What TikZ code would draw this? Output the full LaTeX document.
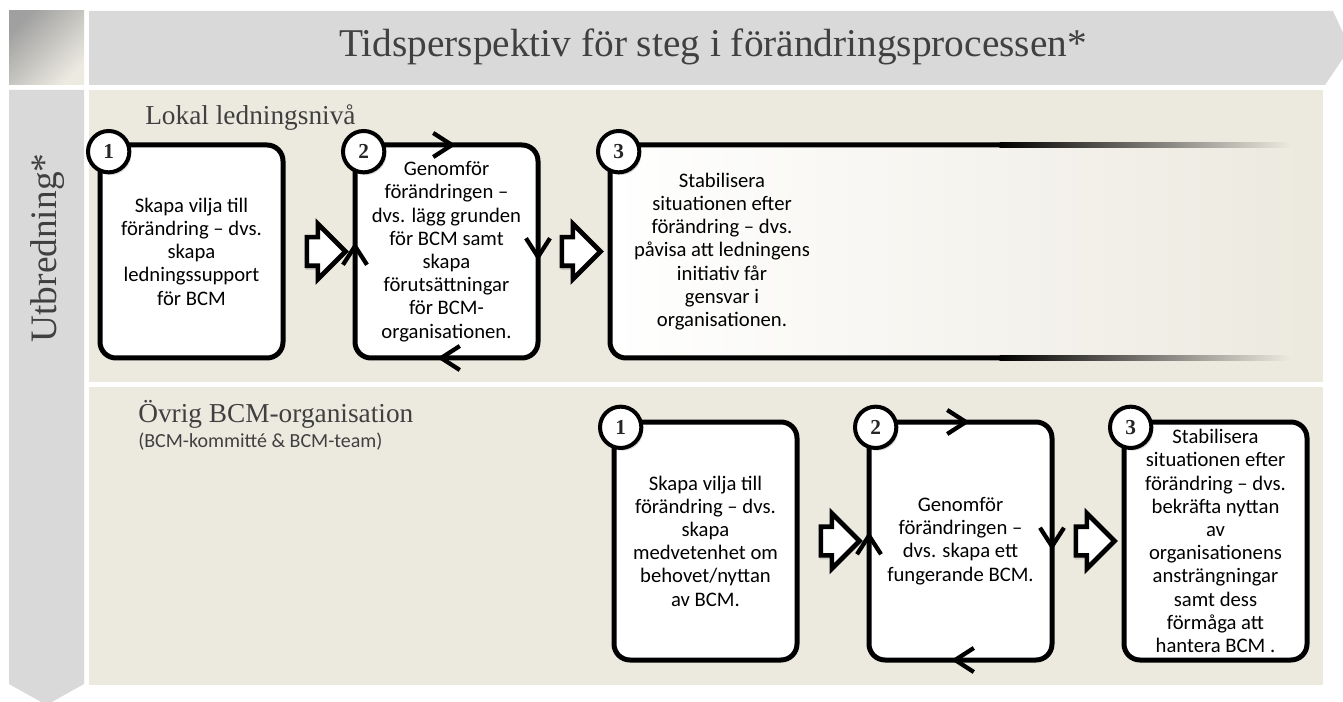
\documentclass[tikz,border=0pt]{standalone}
\usepackage{fontspec}
\setmainfont{Liberation Serif}
\newfontfamily\boxfont{Carlito}
\usetikzlibrary{positioning}
\usetikzlibrary{calc}
\usetikzlibrary{shapes.arrows}
\usetikzlibrary{shadows}
\usetikzlibrary{arrows.meta}

\definecolor{panelbg}{RGB}{236,233,223}
\definecolor{bargray}{RGB}{217,217,217}
\definecolor{headtxt}{RGB}{64,64,64}
\definecolor{cornerdark}{RGB}{160,160,160}
\definecolor{cornerlight}{RGB}{236,234,225}

\tikzset{
  stepbox/.style={draw=black, line width=3.75pt, fill=white, rounded corners=12pt,
    minimum width=137.25pt, outer sep=0pt, inner sep=2pt, align=center,
    font=\boxfont\fontsize{15.5}{17.4}\selectfont},
  steptext/.style={align=center, font=\boxfont\fontsize{15.5}{17.4}\selectfont},
  fadebox/.style={rounded corners=12pt, outer sep=0pt, left color=white,
    middle color=white, right color=panelbg},
  stepnum/.style={circle, draw=black, line width=3pt, fill=white, minimum size=31pt,
    inner sep=0pt, text=black!85, font=\bfseries\fontsize{16}{16}\selectfont,
    drop shadow={shadow xshift=1.5pt, shadow yshift=-2pt, opacity=0.3}},
  blockarrow/.style={single arrow, draw=black, fill=white, line width=3.5pt,
    minimum height=29pt, inner xsep=0pt, inner ysep=9pt,
    single arrow head extend=10pt, outer sep=0pt,
    drop shadow={shadow xshift=-1pt, shadow yshift=-3pt, opacity=0.3}},
  cyclehead/.style={line width=3.2pt, -{Straight Barb[length=14pt, width=18pt]}},
  rowhead/.style={text=headtxt, font=\fontsize{20.5}{24}\selectfont, inner sep=0pt},
  subhead/.style={text=headtxt, font=\boxfont\fontsize{15}{18}\selectfont, inner sep=0pt}
}

\begin{document}
\begin{tikzpicture}[x=0.75pt, y=-0.75pt, node distance=54pt]

  \fill[white] (0,0) rectangle (1343,702);
  \useasboundingbox (0,0) rectangle (1343,702);

  % bakgrund
  \begin{scope}
    \clip (0,0) rectangle (1343,702);
    \shade[top color=cornerdark, bottom color=cornerlight, shading angle=45] (9,11) rectangle (84,85);
    \fill[bargray] (89,11) -- (1333,11) -- (1350,48) -- (1325,85) -- (89,85) -- cycle;
    \fill[bargray] (9,90) -- (84,90) -- (84,684) -- (46.5,705) -- (9,684) -- cycle;
    \fill[panelbg] (89,90) rectangle (1323,382);
    \fill[panelbg] (89,387) rectangle (1323,685);
  \end{scope}

  \node[text=headtxt, font=\fontsize{29.5}{34}\selectfont, anchor=base] (title) at (713,57) {Tidsperspektiv för steg i förändringsprocessen*};
  \node[text=headtxt, font=\fontsize{28}{32}\selectfont, anchor=base, rotate=90] (spread) at (56,248) {Utbredning*};

  \node[rowhead, anchor=base west] (lokal) at (145,125) {Lokal ledningsnivå};
  \node[rowhead, anchor=base west] (ovrig) at (138,422) {Övrig BCM-organisation};
  \node[subhead, anchor=base west] (ovrigsub) at (138,447) {(BCM-kommitté \& BCM-team)};

  % lokal ledningsniva
  \node[stepbox, minimum height=159.75pt] (u1) at (191.5,251.5) {Skapa vilja till\\förändring – dvs.\\skapa\\ledningssupport\\för BCM};
  \node[stepbox, minimum height=159.75pt] (u2) [right=of u1] {Genomför\\förändringen –\\dvs. lägg grunden\\för BCM samt\\skapa\\förutsättningar\\för BCM-\\organisationen.};
  \node[fadebox, minimum width=525pt, minimum height=159.75pt] (u3) [right=of u2] {};
  \draw[line width=3.75pt, rounded corners=12pt] ([xshift=292pt]u3.north west) -- (u3.north west) -- (u3.south west) -- ([xshift=292pt]u3.south west);
  \shade[left color=black, right color=panelbg] ([xshift=292pt, yshift=1.875pt]u3.north west) rectangle ([xshift=510pt, yshift=-1.875pt]u3.north west);
  \shade[left color=black, right color=panelbg] ([xshift=292pt, yshift=1.875pt]u3.south west) rectangle ([xshift=510pt, yshift=-1.875pt]u3.south west);
  \node[steptext] (u3t) at ([xshift=84pt]u3.west) {Stabilisera\\situationen efter\\förändring – dvs.\\påvisa att ledningens\\initiativ får\\gensvar i\\organisationen.};

  % ovrig BCM-organisation
  \node[stepbox, minimum height=178.5pt] (l1) at (705.5,541) {Skapa vilja till\\förändring – dvs.\\skapa\\medvetenhet om\\behovet/nyttan\\av BCM.};
  \node[stepbox, minimum height=178.5pt] (l2) [right=of l1] {Genomför\\förändringen –\\dvs. skapa ett\\fungerande BCM.};
  \node[stepbox, minimum height=178.5pt] (l3) [right=of l2] {Stabilisera\\situationen efter\\förändring – dvs.\\bekräfta nyttan\\av\\organisationens\\ansträngningar\\samt dess\\förmåga att\\hantera BCM .};

  % nummer
  \node[stepnum] (n1) at ([xshift=6.5pt, yshift=-5pt]u1.north west) {1};
  \node[stepnum] (n2) at ([xshift=6.5pt, yshift=-5pt]u2.north west) {2};
  \node[stepnum] (n3) at ([xshift=6.5pt, yshift=-5pt]u3.north west) {3};
  \node[stepnum] (m1) at ([xshift=5pt, yshift=-4pt]l1.north west) {1};
  \node[stepnum] (m2) at ([xshift=5pt, yshift=-4pt]l2.north west) {2};
  \node[stepnum] (m3) at ([xshift=5pt, yshift=-4pt]l3.north west) {3};

  % pilar mellan stegen
  \node[blockarrow] (a12) at ($(u1.east)!0.5!(u2.west)$) {};
  \node[blockarrow] (a23) at ($(u2.east)!0.5!(u3.west)$) {};
  \node[blockarrow] (b12) at ($(l1.east)!0.5!(l2.west)$) {};
  \node[blockarrow] (b23) at ($(l2.east)!0.5!(l3.west)$) {};

  % cykel runt steg 2
  \foreach \b in {u2,l2} {
    \draw[cyclehead] ([xshift=-10pt]\b.north) -- ([xshift=7pt]\b.north);
    \draw[cyclehead] ([yshift=10pt]\b.east) -- ([yshift=-7pt]\b.east);
    \draw[cyclehead] ([xshift=10pt]\b.south) -- ([xshift=-7pt]\b.south);
    \draw[cyclehead] ([yshift=-10pt]\b.west) -- ([yshift=7pt]\b.west);
  }

\end{tikzpicture}
\end{document}
